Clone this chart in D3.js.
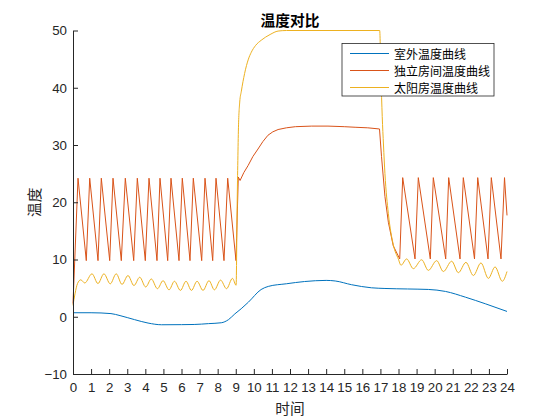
<!DOCTYPE html>
<html>
<head>
<meta charset="utf-8">
<script src="https://cdn.jsdelivr.net/npm/d3@7"></script>
<style>
  html, body { margin: 0; padding: 0; background: #fff; }
  svg { display: block; }
</style>
</head>
<body>
<svg id="chart" width="560" height="420"></svg>
<script>
// ---------- data ----------
const titleText = "温度对比";
const xLabelText = "时间";
const yLabelText = "温度";
const seriesNames = ["室外温度曲线", "独立房间温度曲线", "太阳房温度曲线"];
const xTicks = d3.range(0, 25, 1);
const yTicks = [-10, 0, 10, 20, 30, 40, 50];

// 室外温度曲线 : [hour, temperature]
const outdoorSeries = [
  [0, 0.7], [1, 0.7], [2.1, 0.55], [2.6, 0.2], [3.4, -0.5], [4.15, -1.1], [4.9, -1.4],
  [6, -1.38], [6.7, -1.35], [7.5, -1.2], [8.2, -1.05], [8.6, -0.5], [8.95, 0.5],
  [9.3, 1.4], [9.7, 2.55], [10.4, 4.75], [10.8, 5.3], [11.8, 5.76], [12.8, 6.15],
  [14.0, 6.35], [14.5, 6.25], [15.4, 5.6], [16.5, 5.06], [17.25, 4.94], [18.5, 4.85],
  [19.65, 4.77], [20.6, 4.42], [21.7, 3.42], [22.8, 2.27], [24, 0.93]
];

// 独立房间温度曲线
const roomSeries = [
  [0, 2.3], [0.277, 24.2], [0.735, 9.8], [0.924, 24.2], [1.383, 9.8], [1.565, 24.2],
  [2.030, 9.8], [2.212, 24.2], [2.671, 9.8], [2.892, 24.2], [3.357, 9.8], [3.556, 24.2],
  [3.998, 9.8], [4.203, 24.2], [4.645, 9.8], [4.811, 24.2], [5.237, 9.8], [5.419, 24.2],
  [5.862, 9.8], [6.044, 24.2], [6.470, 9.8], [6.653, 24.2], [7.117, 9.8], [7.300, 24.2],
  [7.725, 9.8], [7.908, 24.2], [8.350, 9.8], [8.555, 24.2], [9.014, 9.8],
  [9.14, 24.4], [9.24, 23.8], [9.45, 25.2], [9.68, 26.4], [9.95, 28.0], [10.23, 29.3],
  [10.5, 30.6], [10.78, 31.7], [11.05, 32.3], [11.34, 32.7], [11.8, 33.0], [12.3, 33.2],
  [13.2, 33.3], [14.1, 33.3], [15.0, 33.2], [15.6, 33.1], [16.3, 33.0], [16.95, 32.8],
  [17.06, 28.0], [17.25, 21.0], [17.44, 16.5], [17.71, 12.4], [18.067, 10.1],
  [18.232, 24.3], [18.913, 10.1], [19.095, 24.3], [19.759, 10.1], [19.925, 24.3],
  [20.611, 10.1], [20.776, 24.3], [21.401, 10.1], [21.584, 24.3], [22.203, 10.1],
  [22.380, 24.3], [22.950, 10.1], [23.132, 24.3], [23.668, 10.1], [23.862, 24.3],
  [24.0, 17.7]
];

// 太阳房温度曲线
const sunroomSeries = [
  [0, 2.0], [0.11, 4.0], [0.25, 5.8], [0.43, 6.45], [0.65, 5.9], [1.05, 7.5], [1.38, 5.8],
  [1.71, 7.5], [2.06, 5.75], [2.39, 7.5], [2.71, 5.65], [3.04, 7.2], [3.37, 5.45],
  [3.69, 6.9], [4.02, 5.2], [4.33, 6.6], [4.67, 4.9], [4.98, 6.3], [5.31, 4.7],
  [5.61, 6.2], [5.94, 4.6], [6.25, 6.2], [6.55, 4.6], [6.86, 6.2], [7.19, 4.6],
  [7.52, 6.3], [7.82, 4.7], [8.16, 6.4], [8.49, 4.9], [8.82, 6.7], [9.02, 5.5],
  [9.08, 20], [9.15, 33], [9.22, 37.5], [9.31, 39.4], [9.49, 42.5], [9.7, 45],
  [9.86, 46.2], [10.1, 47.4], [10.41, 48.3], [10.9, 49.3], [11.34, 49.9], [11.8, 50],
  [16.96, 50], [17.03, 42], [17.1, 35], [17.17, 30], [17.25, 25], [17.44, 18],
  [17.71, 12.6], [17.99, 10.1], [18.14, 9.0], [18.45, 10.1], [18.82, 8.4], [19.28, 9.95],
  [19.65, 8.1], [20.11, 9.8], [20.48, 7.9], [20.94, 9.7], [21.31, 7.7], [21.73, 9.5],
  [22.14, 7.2], [22.56, 9.4], [22.97, 6.7], [23.34, 8.7], [23.74, 6.2], [24.0, 7.9]
];

// ---------- drawing ----------
const colors = ["#0072BD", "#D95319", "#EDB120"];
const axisColor = "#262626";
const latin = "'Liberation Sans', Arial, Helvetica, 'Noto Sans CJK SC', sans-serif";
const cjk = "'Noto Sans CJK SC', 'Liberation Sans', sans-serif";

const svg = d3.select("#chart");
const margin = { left: 73, right: 53, top: 30.5, bottom: 46 };
const W = 560, H = 420;

const x = d3.scaleLinear().domain([0, 24]).range([margin.left, W - margin.right]);
const y = d3.scaleLinear().domain([-10, 50]).range([H - margin.bottom, margin.top]);

// data lines
const series = [
  { data: outdoorSeries, curve: d3.curveMonotoneX },
  { data: roomSeries, curve: d3.curveLinear },
  { data: sunroomSeries, curve: d3.curveMonotoneX }
];
const plot = svg.append("g");
series.forEach((s, i) => {
  const line = d3.line().x(d => x(d[0])).y(d => y(d[1])).curve(s.curve);
  plot.append("path")
    .datum(s.data)
    .attr("fill", "none")
    .attr("stroke", colors[i])
    .attr("stroke-width", 1)
    .attr("stroke-linejoin", "round")
    .attr("d", line);
});

// axes
const xAxis = d3.axisBottom(x).tickValues(xTicks).tickFormat(d3.format("d"))
  .tickSizeInner(-5).tickSizeOuter(0).tickPadding(9);
const yAxis = d3.axisLeft(y).tickValues(yTicks).tickFormat(d3.format("d"))
  .tickSizeInner(-5).tickSizeOuter(0).tickPadding(6);

const gx = svg.append("g").attr("transform", `translate(0,${y(-10)})`).call(xAxis);
const gy = svg.append("g").attr("transform", `translate(${x(0)},0)`).call(yAxis);
[gx, gy].forEach(g => {
  g.select(".domain").attr("stroke", axisColor).attr("stroke-width", 1);
  g.selectAll(".tick line").attr("stroke", axisColor).attr("stroke-width", 1);
  g.selectAll(".tick text").attr("fill", axisColor)
    .style("font-family", latin).style("font-size", "13.3px");
});

// labels
svg.append("text")
  .attr("x", (x(0) + x(24)) / 2).attr("y", 19)
  .attr("text-anchor", "middle").attr("dominant-baseline", "central")
  .style("font-family", cjk).style("font-size", "14.7px").style("font-weight", "bold")
  .attr("fill", "#000").text(titleText);

svg.append("text")
  .attr("x", (x(0) + x(24)) / 2).attr("y", 407)
  .attr("text-anchor", "middle").attr("dominant-baseline", "central")
  .style("font-family", cjk).style("font-size", "14.7px")
  .attr("fill", axisColor).text(xLabelText);

svg.append("text")
  .attr("transform", `translate(33,${(y(-10) + y(50)) / 2}) rotate(-90)`)
  .attr("text-anchor", "middle").attr("dominant-baseline", "central")
  .style("font-family", cjk).style("font-size", "14.7px")
  .attr("fill", axisColor).text(yLabelText);

// legend
const lg = svg.append("g").attr("transform", "translate(342,43.5)");
lg.append("rect").attr("width", 152).attr("height", 52.5)
  .attr("fill", "#fff").attr("stroke", axisColor).attr("stroke-width", 0.8);
seriesNames.forEach((name, i) => {
  const ry = 10 + i * 17;
  lg.append("line").attr("x1", 8).attr("x2", 47).attr("y1", ry).attr("y2", ry)
    .attr("stroke", colors[i]).attr("stroke-width", 1);
  lg.append("text").attr("x", 52).attr("y", ry)
    .attr("dominant-baseline", "central")
    .style("font-family", cjk).style("font-size", "12px")
    .attr("fill", "#000").text(name);
});
</script>
</body>
</html>
